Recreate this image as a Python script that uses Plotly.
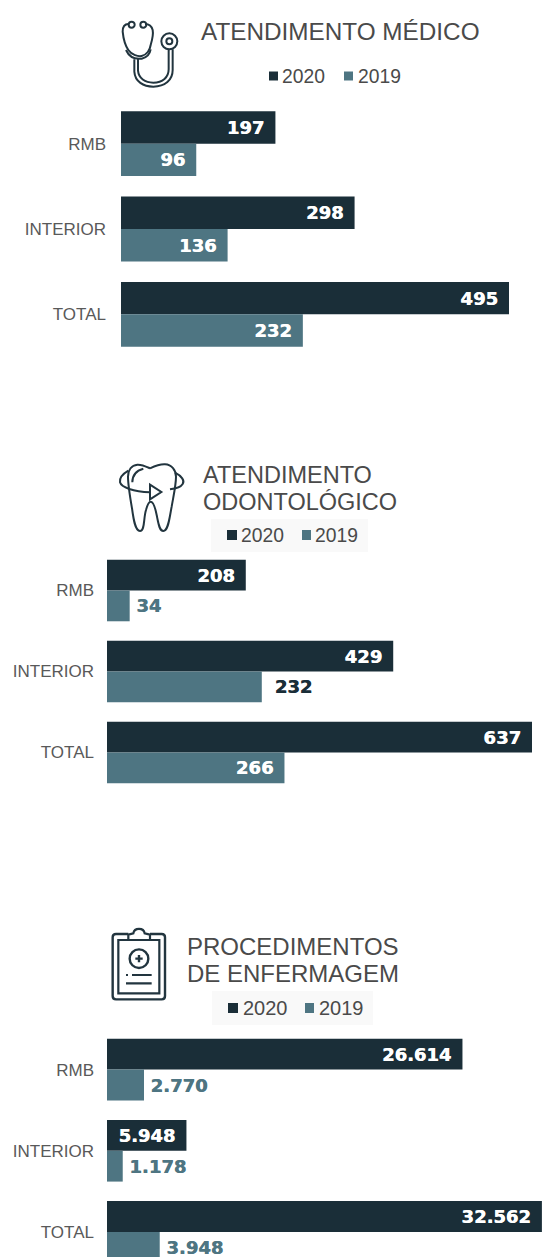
import re
import plotly.graph_objects as go

W, H = 542, 1257
DARK = "#1a2e38"
TEAL = "#4e7582"
ICON = "#22353f"
TXT = "#4a4a4a"
LAB = "#595959"

categories = ["RMB", "INTERIOR", "TOTAL"]
medico_2020 = [197, 298, 495]
medico_2019 = [96, 136, 232]
odonto_2020 = [208, 429, 637]
odonto_2019 = [34, 232, 266]
enferm_2020 = [26614, 5948, 32562]
enferm_2019 = [2770, 1178, 3948]
series_names = ["2020", "2019"]


def br(v):
    return f"{v:,}".replace(",", ".")


def px(x):
    return x / W


def py(y):
    return 1 - y / H


fig = go.Figure()

panels = [
    dict(a="", v20=medico_2020, v19=medico_2019, x0=121, scale=388 / 495, top=101, bottom=357,
         pos19=["inside", "inside", "inside"], col19=["white"] * 3, rng=None, standoff=14),
    dict(a="2", v20=odonto_2020, v19=odonto_2019, x0=107, scale=425 / 637, top=550, bottom=793,
         pos19=["outside", "outside", "inside"], col19=[TEAL, DARK, "white"], rng=None, standoff=12),
    dict(a="3", v20=enferm_2020, v19=enferm_2019, x0=107, scale=434.9 / 32562, top=1029, bottom=H,
         pos19=["outside", "outside", "outside"], col19=[TEAL, TEAL, TEAL],
         rng=[(H - 1069.5) / 81.2, -0.5], standoff=12),
]

LABEL_FONT = "DejaVu Sans"
IN_PAD = "\u00a0\u200a"
OUT_PAD = "\u2009"


def label(v, q, col):
    if q == "inside":
        return br(v) + IN_PAD
    return ("\u00a0\u2009" if col == DARK else OUT_PAD) + br(v)


for p in panels:
    for name, vals, color, pos, tcol in [
        (series_names[0], p["v20"], DARK, ["inside"] * 3, ["white"] * 3),
        (series_names[1], p["v19"], TEAL, p["pos19"], p["col19"]),
    ]:
        fig.add_trace(go.Bar(
            y=categories, x=vals, name=name, orientation="h",
            xaxis="x" + p["a"], yaxis="y" + p["a"],
            marker=dict(color=color, line=dict(width=0)),
            text=[label(v, q, c) for v, q, c in zip(vals, pos, tcol)],
            textposition=pos, insidetextanchor="end", textangle=0,
            constraintext="none", cliponaxis=False,
            textfont=dict(family=LABEL_FONT, size=18, color=tcol, weight="bold",
                          shadow=[f"0.5px 0 0 {c}" for c in tcol]),
            showlegend=False,
        ))
    yd = [py(p["bottom"]), py(p["top"])]
    xd = [px(p["x0"]), 1]
    fig.layout["xaxis" + p["a"]] = dict(
        domain=xd, range=[0, (W - p["x0"]) / p["scale"]], visible=False,
        anchor="y" + p["a"])
    ya = dict(
        domain=yd, type="category", anchor="x" + p["a"], showgrid=False, zeroline=False,
        showline=False, ticks="", ticklabelstandoff=p["standoff"],
        tickfont=dict(family="Liberation Sans", size=17, color=LAB))
    if p["rng"]:
        ya["range"] = p["rng"]
    else:
        ya["autorange"] = "reversed"
    fig.layout["yaxis" + p["a"]] = ya

ann = []
shapes = []


def text(x, y, s, size, color=TXT):
    ann.append(dict(xref="paper", yref="paper", x=px(x), y=py(y), text=s, showarrow=False,
                    xanchor="left", yanchor="middle", xshift=0, borderpad=0, borderwidth=0,
                    font=dict(family="Liberation Sans", size=size, color=color)))


def rect(x0, y0, x1, y1, color):
    shapes.append(dict(type="rect", xref="paper", yref="paper", x0=px(x0), x1=px(x1),
                       y0=py(y1), y1=py(y0), fillcolor=color, line=dict(width=0), layer="below"))


def path(d, ox, oy, lw=2.0, color=ICON):
    i = [0]

    def rep(m):
        v = float(m.group(0)) / 3
        out = px(ox + v) if i[0] % 2 == 0 else py(oy + v)
        i[0] += 1
        return f"{out:.6f}"

    s = re.sub(r"-?\d+(\.\d+)?", rep, d)
    shapes.append(dict(type="path", xref="paper", yref="paper", path=s,
                       line=dict(color=color, width=lw), fillcolor="rgba(0,0,0,0)"))


def circle(cx, cy, r, ox, oy, lw=2.0, color=ICON):
    x, y = ox + cx / 3, oy + cy / 3
    rr = r / 3
    shapes.append(dict(type="circle", xref="paper", yref="paper", x0=px(x - rr), x1=px(x + rr),
                       y0=py(y + rr), y1=py(y - rr), line=dict(color=color, width=lw)))


# Titles
text(201, 32, "ATENDIMENTO MÉDICO", 24.3)
text(203, 475, "ATENDIMENTO", 23.5)
text(203, 502, "ODONTOLÓGICO", 23.5)
text(187, 946, "PROCEDIMENTOS", 24)
text(187, 973, "DE ENFERMAGEM", 24)

# Legends: swatch and label positions per panel
rect(211, 519, 368, 552, "#f9f9f9")
rect(212, 991, 373, 1025, "#f9f9f9")
legends = [
    (76, 269, 278, 282, 344, 353, 358, 19.3),
    (535, 227, 237, 241, 302, 311, 315, 19.3),
    (1008, 228, 238, 243, 305, 314, 319, 20),
]
for yc, a0, a1, at, b0, b1, bt, sz in legends:
    h = (a1 - a0) / 2
    rect(a0, yc - h, a1, yc + h, DARK)
    rect(b0, yc - h, b1, yc + h, TEAL)
    text(at, yc, series_names[0], sz)
    text(bt, yc, series_names[1], sz)

# Stethoscope
ox, oy = 100, 0
path("M 85 72 C 70 72 68 85 68 95 C 70 115 78 140 85 150 C 95 165 115 170 125 168 "
     "C 140 165 150 150 152 135 C 158 115 160 100 158 90 C 155 78 145 72 135 72", ox, oy)
path("M 78 150 C 88 172 108 178 125 176 C 142 172 150 160 152 148", ox, oy)
circle(95, 74, 9, ox, oy)
circle(130, 74, 9, ox, oy)
path("M 103 178 L 103 215 C 105 245 130 260 160 260 C 195 260 218 240 218 210 L 218 148", ox, oy)
path("M 114 176 L 114 212 C 116 235 135 248 160 248 C 188 248 206 232 206 208 L 206 148", ox, oy)
circle(208, 124, 24, ox, oy)
circle(208, 124, 9, ox, oy)

# Tooth
ox, oy = 100, 450
path("M 150 55 C 135 48 125 43 112 44 C 95 46 84 60 84 80 C 84 105 90 140 96 175 "
     "C 100 205 105 243 120 243 C 135 243 130 205 138 180 C 142 165 146 155 152 155 "
     "C 160 155 166 175 170 195 C 175 220 178 243 190 243 C 205 243 208 205 215 170 "
     "C 220 140 228 105 228 80 C 228 60 215 44 195 43 C 178 42 165 48 150 55", ox, oy)
path("M 85 62 C 68 72 58 85 60 97 C 64 112 100 125 150 127", ox, oy)
path("M 225 68 C 245 78 255 92 248 102 C 242 112 225 116 210 118", ox, oy)
path("M 97 97 C 97 78 108 62 130 56", ox, oy)
path("M 150 104 L 184 126 L 150 148 Z", ox, oy)

# Clipboard
ox, oy = 90, 920
path("M 115 42 L 78 42 C 72 42 68 46 68 52 L 68 228 C 68 234 72 238 78 238 L 215 238 "
     "C 221 238 225 234 225 228 L 225 52 C 225 46 221 42 215 42 L 180 42", ox, oy, 2.4)
path("M 115 60 L 85 60 L 85 220 L 208 220 L 208 60 L 180 60", ox, oy, 2.2)
path("M 115 60 L 115 44 L 130 40 C 133 22 161 22 164 40 L 180 44 L 180 60 Z", ox, oy, 2.2)
circle(147, 116, 28, ox, oy, 2.4)
path("M 136 116 L 158 116 M 147 105 L 147 127", ox, oy, 2.4)
path("M 108 165 L 114 165 M 126 165 L 185 165 M 108 190 L 185 190", ox, oy, 2.2)

fig.update_layout(
    width=W, height=H, margin=dict(l=0, r=0, t=0, b=0), autosize=False,
    paper_bgcolor="white", plot_bgcolor="rgba(0,0,0,0)",
    barmode="group", bargap=0.24, bargroupgap=0, showlegend=False,
    annotations=ann, shapes=shapes,
)
fig.write_html("out.html", config={"displayModeBar": False},
               post_script="document.body.style.margin='0';document.body.style.overflow='hidden';")
